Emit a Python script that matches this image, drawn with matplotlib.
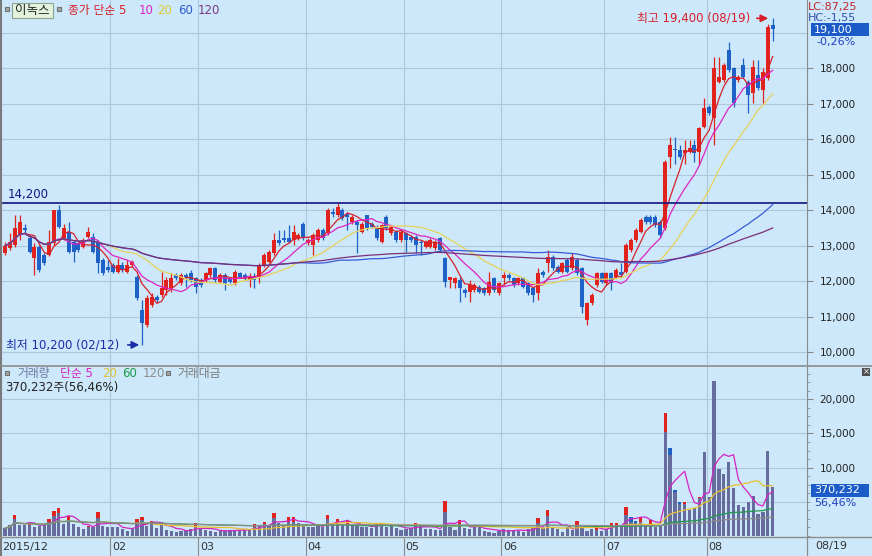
import matplotlib
matplotlib.use("Agg")
import matplotlib.pyplot as plt
from matplotlib.lines import Line2D
from matplotlib.patches import Rectangle
from matplotlib.ticker import FuncFormatter, MultipleLocator
import numpy as np
import pandas as pd

plt.rcParams["font.family"] = ["DejaVu Sans", "Noto Sans CJK KR"]

# daily candles, 2015-12-29 .. 2016-08-19 (trading days, index 0..157)
opens = [12780, 12920, 13010, 13300, 13500, 13200, 12640, 12970, 12730, 12730,
         13060, 14000, 13200, 13390, 13110, 13060, 12970, 13250, 13250, 13110,
         12590, 12400, 12450, 12260, 12450, 12260, 12450, 12120, 11180, 10760,
         11320, 11560, 11600, 11750, 11790, 12170, 11930, 12170, 12220, 12080,
         12030, 12030, 12170, 12360, 11980, 12170, 12080, 11930, 12220, 12170,
         12030, 12120, 12120, 12450, 12540, 12780, 13150, 13200, 13200, 13150,
         13200, 13620, 13060, 13010, 13150, 13440, 13340, 13950, 13860, 14000,
         13900, 13670, 13670, 13390, 13860, 13620, 13530, 13110, 13810, 13340,
         13390, 13150, 13340, 13250, 13250, 13110, 12970, 12970, 12920, 13200,
         12640, 12030, 11930, 12030, 11750, 11700, 11750, 11840, 11790, 11650,
         12080, 11650, 12080, 12170, 12080, 11930, 12080, 11930, 11790, 11650,
         12260, 12500, 12690, 12400, 12260, 12590, 12360, 12590, 12360, 10900,
         11370, 11890, 12220, 11930, 12220, 12120, 12260, 12260, 12870, 13150,
         13390, 13810, 13810, 13810, 13670, 13480, 15500, 15700, 15690, 15600,
         15640, 15830, 15640, 16350, 16910, 16580, 17610, 17660, 18510, 17990,
         17660, 18090, 17610, 17290, 17800, 17380, 17710, 19200]
highs = [13110, 13340, 13860, 13860, 13620, 13300, 13060, 13010, 12780, 13440,
         14000, 14140, 13620, 13670, 13150, 13110, 13200, 13530, 13340, 13150,
         12640, 12590, 12500, 12640, 12540, 12590, 12590, 12170, 11460, 11600,
         11650, 11600, 12260, 12120, 12220, 12220, 12220, 12220, 12310, 12120,
         12080, 12260, 12400, 12400, 12220, 12220, 12120, 12310, 12260, 12220,
         12220, 12220, 12500, 12780, 12870, 13340, 13440, 13440, 13580, 13580,
         13350, 13670, 13200, 13340, 13480, 13480, 14050, 14050, 14190, 14050,
         13950, 13860, 13720, 13670, 13860, 13670, 13580, 13620, 13860, 13580,
         13440, 13440, 13390, 13300, 13300, 13150, 13150, 13200, 13150, 13250,
         12690, 12120, 12120, 12120, 11790, 12030, 11930, 11890, 11840, 12260,
         12120, 11980, 12260, 12220, 12120, 12120, 12120, 11980, 11840, 12360,
         12310, 12870, 12730, 12450, 12540, 12640, 12780, 12640, 12400, 11420,
         11650, 12260, 12260, 12260, 12260, 12360, 12500, 13060, 13200, 13480,
         13770, 13860, 13860, 13860, 13720, 15400, 16070, 16070, 15830, 15970,
         15970, 15970, 16350, 17150, 16960, 18320, 18320, 18130, 18740, 18040,
         17800, 18270, 17660, 18230, 18230, 17990, 19250, 19400]
lows = [12730, 12880, 12970, 13150, 13350, 12780, 12170, 12260, 12450, 12700,
        13010, 13480, 13150, 12780, 12540, 12830, 12920, 13200, 12780, 12220,
        12170, 12260, 12220, 12220, 12260, 12220, 12400, 11460, 10200, 10710,
        11280, 11420, 11560, 11600, 11700, 12030, 11880, 11840, 11980, 11650,
        11840, 11980, 12120, 11980, 11930, 11750, 11930, 11880, 12080, 12030,
        11840, 11790, 11930, 12400, 12500, 12730, 13010, 13100, 13060, 13010,
        13150, 13150, 13010, 12730, 13100, 13150, 13300, 13810, 13810, 13720,
        13440, 13620, 12780, 13340, 13440, 13480, 13150, 13060, 13440, 13300,
        13100, 13100, 12830, 13100, 12780, 12730, 12920, 12920, 12880, 12830,
        11840, 11790, 11790, 11420, 11560, 11420, 11700, 11650, 11600, 11600,
        11700, 11600, 11890, 12030, 11840, 11890, 11790, 11600, 11420, 11470,
        12120, 12260, 12310, 12220, 12220, 12220, 12310, 12170, 11090, 10760,
        11320, 11840, 11930, 11890, 11750, 12080, 12120, 12220, 12830, 13110,
        13340, 13620, 13620, 13530, 13250, 13440, 15170, 15310, 15450, 15310,
        15600, 15360, 15270, 16300, 16680, 15830, 17570, 17610, 17900, 16910,
        17610, 17710, 16720, 17010, 17380, 17010, 17660, 18750]
closes = [13000, 13110, 13480, 13670, 13440, 12830, 12970, 12310, 12500, 13110,
          14000, 13530, 13480, 12830, 12830, 12870, 13150, 13390, 12830, 12500,
          12220, 12310, 12260, 12450, 12310, 12450, 12540, 11510, 10810, 11510,
          11560, 11460, 11790, 12030, 12080, 12080, 12170, 12120, 12030, 11840,
          11890, 12220, 12360, 12030, 12170, 11930, 11980, 12260, 12120, 12080,
          12120, 12030, 12450, 12730, 12830, 13150, 13060, 13150, 13110, 13390,
          13300, 13200, 13150, 13300, 13440, 13200, 14000, 13900, 14090, 13770,
          13810, 13810, 13580, 13620, 13480, 13530, 13200, 13580, 13480, 13530,
          13150, 13390, 13150, 13150, 13010, 13060, 13110, 13150, 13110, 12870,
          11980, 12120, 12080, 11790, 11650, 11890, 11890, 11700, 11650, 11980,
          11750, 11930, 12170, 12080, 11890, 12080, 11840, 11650, 11600, 12220,
          12170, 12690, 12360, 12260, 12500, 12260, 12690, 12220, 11280, 11370,
          11600, 12220, 11980, 12220, 11930, 12310, 12170, 13010, 13150, 13440,
          13720, 13670, 13670, 13580, 13300, 15360, 15830, 15680, 15500, 15700,
          15740, 15600, 16300, 16860, 16720, 17990, 17760, 18090, 17940, 17010,
          17760, 17760, 17240, 18040, 17430, 17900, 19150, 19100]

# 거래대금 bars (slate), same scale as the volume axis
trade_value = [1130, 1610, 2440, 1610, 1610, 1610, 1270, 1470, 1760, 2100,
               2930, 3320, 1760, 2340, 1760, 1270, 980, 1270, 1370, 2690,
               1470, 1370, 1370, 1270, 980, 790, 980, 1960, 2340, 1470,
               1760, 1130, 1610, 880, 790, 640, 740, 880, 980, 1370,
               980, 880, 740, 640, 790, 790, 880, 880, 880, 880,
               980, 1370, 1470, 1760, 1470, 2590, 1860, 1610, 2100, 2100,
               1960, 1610, 1370, 1370, 1470, 1270, 2440, 1960, 1960, 1760,
               1760, 1470, 1610, 1270, 1370, 1130, 1610, 1610, 1370, 1450,
               1230, 890, 990, 1140, 1630, 1630, 990, 990, 890, 890,
               3570, 1380, 890, 1770, 1140, 990, 1280, 1480, 800, 650,
               410, 800, 990, 890, 800, 800, 650, 990, 1140, 1870,
               1140, 2940, 1380, 990, 650, 1280, 890, 1630, 1280, 800,
               990, 890, 800, 990, 1380, 1380, 1480, 3090, 2110, 1870,
               2110, 1630, 1770, 1280, 1630, 15260, 11850, 6400, 4700, 4700,
               3820, 4060, 5520, 12340, 5760, 22710, 9810, 9080, 10880, 6980,
               4550, 4300, 5030, 5860, 3230, 3570, 12440, 7220]
# 거래량 where it rises above the 거래대금 bar (index: volume)
volume_tips = {2: 3075, 5: 1950, 9: 2440, 10: 3660, 11: 4050, 13: 2930, 17: 1470,
               19: 3560, 27: 2490, 28: 2830, 30: 2250, 32: 2100, 39: 1860, 51: 1710,
               53: 2100, 55: 3420, 58: 2740, 59: 2740, 66: 3080, 68: 2440, 70: 2250,
               76: 1960, 77: 1960, 84: 1970, 90: 5180, 93: 2360, 109: 2700, 111: 3820,
               117: 2260, 121: 1380, 124: 1970, 125: 1970, 127: 4300, 128: 2840,
               129: 2260, 130: 2840, 132: 2360, 135: 17940, 136: 12830, 137: 6750,
               138: 4900, 139: 4900, 142: 5700}

month_starts = [22, 40, 62, 82, 102, 123, 144]
month_labels = ["02", "03", "04", "05", "06", "07", "08"]
price_ticks = [10000, 11000, 12000, 13000, 14000, 15000, 16000, 17000, 18000]
vol_ticks = [10000, 15000, 20000]

BG = "#CCE8FA"
GRID = "#AFC7DA"
AXC = "#8C8C8C"
UP = "#E2221C"
DOWN = "#1E62C8"
SLATE = "#676C9E"

W, H = 872, 556


def rect(x0, y0, x1, y1):
    return [x0 / W, 1 - y1 / H, (x1 - x0) / W, (y1 - y0) / H]


def ftext(x, y, s, **kw):
    kw.setdefault("va", "center")
    kw.setdefault("fontsize", 8.5)
    return fig.text(x / W, 1 - y / H, s, **kw)


def fbox(x0, y0, x1, y1, fc, ec="none"):
    fig.add_artist(Rectangle((x0 / W, 1 - y1 / H), (x1 - x0) / W, (y1 - y0) / H,
                             transform=fig.transFigure, facecolor=fc, edgecolor=ec, lw=0.8))


def fline(x0, y0, x1, y1, color=AXC, lw=1.0):
    fig.add_artist(Line2D([x0 / W, x1 / W], [1 - y0 / H, 1 - y1 / H],
                          transform=fig.transFigure, color=color, lw=lw))


o = np.array(opens, float)
h = np.array(highs, float)
l = np.array(lows, float)
c = np.array(closes, float)
idx = np.arange(len(c))
up = c >= o
ccol = np.where(up, UP, DOWN)

vol = np.array(trade_value, float)
for k, v in volume_tips.items():
    vol[k] = v
vol_up = np.r_[True, vol[1:] >= vol[:-1]]

fig = plt.figure(figsize=(W / 100, H / 100), dpi=100, facecolor=BG)
ax = fig.add_axes(rect(0, 0, 807, 365), facecolor=BG)
axv = fig.add_axes(rect(0, 367, 807, 536), facecolor=BG, sharex=ax)
axd = fig.add_axes(rect(0, 537, 807, 556), facecolor=BG, sharex=ax)

ax.set_xlim(-5.1 / 4.889, (807 - 5.1) / 4.889)
ax.set_ylim(9634, 19916)
axv.set_ylim(0, 24708)
axd.set_ylim(0, 1)

for a in (ax, axv, axd):
    for s in ("top", "left", "bottom"):
        a.spines[s].set_visible(False)
    a.spines["right"].set_color(AXC)
    a.tick_params(axis="x", bottom=False, labelbottom=False)
    a.yaxis.tick_right()
    a.tick_params(axis="y", direction="out", length=4, pad=5, colors=AXC,
                  labelcolor="#222222", labelsize=7.5)
axd.tick_params(axis="y", right=False, labelright=False)

fmt = FuncFormatter(lambda v, p: f"{int(v):,}")
ax.set_yticks(price_ticks)
ax.yaxis.set_major_formatter(fmt)
axv.set_yticks(vol_ticks)
axv.yaxis.set_major_formatter(fmt)
axv.yaxis.set_minor_locator(MultipleLocator(1250))
axv.tick_params(axis="y", which="minor", direction="out", length=2, colors=AXC)

# grid
for y in price_ticks + [19000]:
    ax.axhline(y, color=GRID, lw=0.8, zorder=0)
for y in [5000, 10000, 15000, 20000]:
    axv.axhline(y, color=GRID, lw=0.8, zorder=0)
for m in month_starts:
    ax.axvline(m - 0.5, color=GRID, lw=0.8, zorder=0)
    axv.axvline(m - 0.5, color=GRID, lw=0.8, zorder=0)
    axd.axvline(m - 0.5, color=AXC, lw=0.8)

# candles
ax.vlines(idx, l, h, colors=ccol, lw=0.9, zorder=2)
ax.bar(idx, np.maximum(np.abs(c - o), 25), bottom=np.minimum(o, c), width=0.8,
       color=ccol, lw=0, zorder=3)

# price moving averages
cs = pd.Series(c)
ma_styles = [(5, "#D8202A"), (10, "#E024C4"), (20, "#E8D258"), (60, "#3A5AD8"), (120, "#7A2E78")]
for n, col in ma_styles:
    ax.plot(idx, cs.rolling(n, min_periods=1).mean(), color=col, lw=0.9, zorder=4)

# 14,200 line
ax.axhline(14200, color="#141480", lw=1.2, zorder=5)
ax.text(0.5, 14250, "14,200", color="#141480", fontsize=8.5, va="bottom", ha="left")

# high / low annotations
ax.text((750 - 5.1) / 4.889, 19400, "최고 19,400 (08/19)", color="#D81E28", fontsize=8.5,
        ha="right", va="center")
ax.annotate("", xy=((771 - 5.1) / 4.889, 19400), xytext=((754 - 5.1) / 4.889, 19400),
            arrowprops=dict(arrowstyle="-|>", color="#D81E28", lw=1.2, mutation_scale=11))
ax.text((119 - 5.1) / 4.889, 10200, "최저 10,200 (02/12)", color="#1A2CA8", fontsize=8.5,
        ha="right", va="center")
ax.annotate("", xy=((142 - 5.1) / 4.889, 10200), xytext=((125 - 5.1) / 4.889, 10200),
            arrowprops=dict(arrowstyle="-|>", color="#1A2CA8", lw=1.2, mutation_scale=11))

# volume: colored volume first, then trade value on top
axv.bar(idx, vol, width=0.66, color=np.where(vol_up, UP, DOWN), lw=0, zorder=2)
axv.bar(idx, trade_value, width=0.66, color=SLATE, lw=0, zorder=3)
vs = pd.Series(vol)
for n, col in [(5, "#D424C4"), (20, "#E8C030"), (60, "#1E9C48"), (120, "#8C8C8C")]:
    axv.plot(idx, vs.rolling(n, min_periods=1).mean(), color=col, lw=0.9, zorder=4)

# date strip
axd.text(-0.6, 0.45, "2015/12", color="#333333", fontsize=8, va="center")
for m, lab in zip(month_starts, month_labels):
    axd.text(m - 0.1, 0.45, lab, color="#333333", fontsize=8, va="center")
ftext(815, 546, "08/19", color="#333333", fontsize=8)

# frame lines
fline(0.5, 0, 0.5, 556, color="#7A7A7A", lw=1.5)
fline(0, 366, 872, 366, color=AXC, lw=1.2)
fline(0, 536.5, 872, 536.5, color=AXC, lw=1.0)
fline(807, 536, 807, 556, color=AXC, lw=0.8)

# price header
fbox(5, 7, 9, 11, "#A8A8A8", "#707070")
fbox(12, 3, 53, 18, "#E4F3DE", "#8FA58F")
ftext(32.5, 10.5, "이녹스", color="#222222", ha="center", fontsize=9)
fbox(57, 7, 61, 11, "#A8A8A8", "#707070")
ftext(68, 10.5, "종가 단순 5", color="#D8202A")
ftext(139, 10.5, "10", color="#E024C4")
ftext(157, 10.5, "20", color="#E0C838")
ftext(178, 10.5, "60", color="#2E5CD0")
ftext(198, 10.5, "120", color="#7A3A80")

# right-side price info
ftext(808, 7, "LC:87,25", color="#C02828", fontsize=8)
ftext(808, 18, "HC:-1,55", color="#3050B0", fontsize=8)
fbox(811, 23, 869, 36, "#1C5CC8")
ftext(814, 29.5, "19,100", color="white", fontsize=8)
ftext(816, 42, "-0,26%", color="#2040C0", fontsize=8)

# volume header
fbox(5, 371, 9, 375, "#A8A8A8", "#707070")
ftext(17, 373.5, "거래량", color="#6A78A0")
ftext(60, 373.5, "단순 5", color="#D424C4")
ftext(102, 373.5, "20", color="#E0C038")
ftext(122, 373.5, "60", color="#1E9C48")
ftext(143, 373.5, "120", color="#8C8C8C")
fbox(166, 371, 170, 375, "#A8A8A8", "#707070")
ftext(177, 373.5, "거래대금", color="#7A7A7A")
ftext(5, 387, "370,232주(56,46%)", color="#222222")

fbox(862, 368, 870, 376, "#505050")
ftext(866, 372, "×", color="white", fontsize=6, ha="center")
fbox(811, 484, 869, 497, "#1C5CC8")
ftext(814, 490.5, "370,232", color="white", fontsize=8)
ftext(814, 503, "56,46%", color="#2040C0", fontsize=8)

fig.savefig("out.png", dpi=100, facecolor=BG)
